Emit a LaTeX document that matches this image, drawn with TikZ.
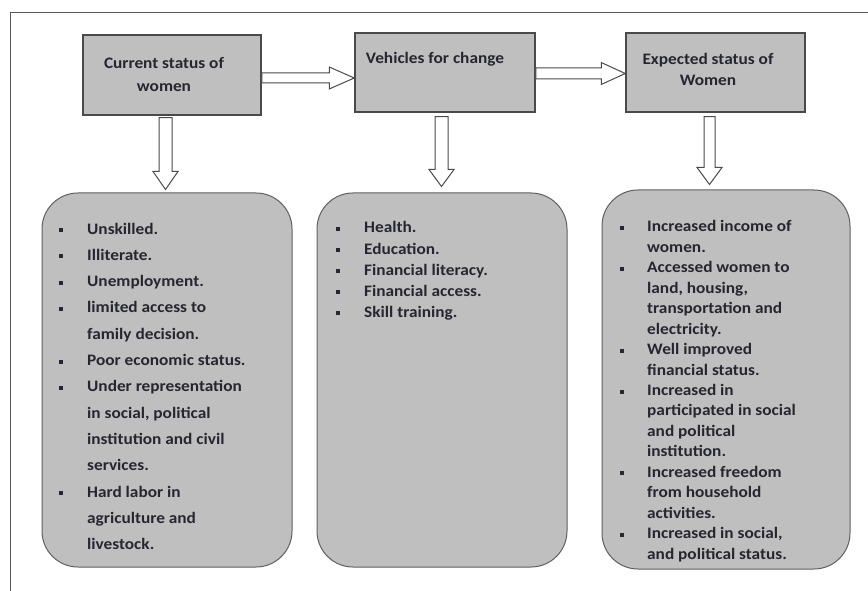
\documentclass[tikz,border=0pt]{standalone}
\usepackage{fontspec}
\setmainfont{Carlito}[FakeStretch=1.08]
\usetikzlibrary{calc}
\definecolor{boxgray}{HTML}{BFBFBF}
\definecolor{edgec}{HTML}{4A4A4A}
\definecolor{listedge}{HTML}{606060}
\definecolor{txt}{HTML}{262630}
\newcommand\harr[5]{\draw[blockarrow] ($(#1)+(0,-#3)$) -- ($(#2)+(-#5,-#3)$) -- ($(#2)+(-#5,-#4)$) -- (#2) -- ($(#2)+(-#5,#4)$) -- ($(#2)+(-#5,#3)$) -- ($(#1)+(0,#3)$) -- cycle;}
\newcommand\varr[5]{\draw[blockarrow] ($(#1)+(-#3,0)$) -- ($(#2)+(-#3,-#5)$) -- ($(#2)+(-#4,-#5)$) -- (#2) -- ($(#2)+(#4,-#5)$) -- ($(#2)+(#3,-#5)$) -- ($(#1)+(#3,0)$) -- cycle;}
\begin{document}
\begin{tikzpicture}[x=1pt,y=-1pt,
  topbox/.style={draw=edgec, line width=1.5pt, fill=boxgray, inner sep=0pt},
  listbox/.style={draw=listedge, line width=1pt, fill=boxgray, inner sep=0pt, rounded corners=36pt},
  blockarrow/.style={draw=edgec, line width=1pt, fill=white, line join=miter},
  framestyle/.style={draw=black!65, line width=1pt},
  toptext/.style={text=txt, font=\bfseries\fontsize{16}{22}\selectfont, align=center, inner sep=0pt},
  lt/.style={text=txt, font=\bfseries\fontsize{16}{20}\selectfont, anchor=base west, inner sep=0pt}]
\useasboundingbox (0,0) rectangle (868,591);
\fill[white] (0,0) rectangle (868,591);
\draw[framestyle] (868,13) -- (10,13) -- (10,591);

% top boxes
\node[topbox, minimum width=178pt, minimum height=80pt] (b1) at (172,75) {};
\node[topbox, minimum width=180pt, minimum height=79pt] (b2) at (445,72.5) {};
\node[topbox, minimum width=179pt, minimum height=79pt] (b3) at (715.5,72.5) {};
\node[toptext, font=\bfseries\fontsize{16}{23}\selectfont] (t1) at (164,75) {Current status of\\women};
\node[toptext] (t2) at (435,59) {Vehicles for change};
\node[toptext, font=\bfseries\fontsize{16}{21}\selectfont] (t3) at (708,69) {Expected status of\\Women};

% list boxes
\node[listbox, minimum width=250pt, minimum height=374pt] (la) at (167,380) {};
\node[listbox, minimum width=250pt, minimum height=374pt] (lb) at (442,380) {};
\node[listbox, minimum width=248pt, minimum height=379pt] (lc) at (726,379.5) {};

% horizontal arrows
\coordinate (h1a) at (b1.east |- 0,78);
\coordinate (h1b) at (b2.west |- 0,78);
\harr{h1a}{h1b}{5}{11}{25}
\coordinate (h2a) at (b2.east |- 0,73.5);
\coordinate (h2b) at (b3.west |- 0,73.5);
\harr{h2a}{h2b}{5.5}{11}{24}

% vertical arrows
\coordinate (v1a) at ($(b1.south)+(-6.5,2)$);
\coordinate (v1b) at ($(la.north -| v1a)+(0,-3)$);
\varr{v1a}{v1b}{6.5}{12.5}{18}
\coordinate (v2a) at ($(b2.south)+(-3.5,4)$);
\coordinate (v2b) at ($(lb.north -| v2a)+(0,-6)$);
\varr{v2a}{v2b}{6.5}{12.5}{17}
\coordinate (v3a) at ($(b3.south)+(-6,4)$);
\coordinate (v3b) at ($(lc.north -| v3a)+(0,-5)$);
\varr{v3a}{v3b}{5.5}{12.5}{17}

% list A
\foreach \t/\b [count=\i] in {Unskilled./1, Illiterate./1, Unemployment./1, limited access to/1, family decision./0, Poor economic status./1, Under representation/1, {in social, political}/0, institution and civil/0, services./0, Hard labor in/1, agriculture and/0, livestock./0} {
  \node[lt] (a\i) at (87,{234+26.3*(\i-1)}) {\t};
  \ifnum\b=1 \fill[txt] ($(a\i.base west)+(-28,-6)$) rectangle ++(4,4);\fi
}
% list B
\foreach \t/\b [count=\i] in {Health./1, Education./1, Financial literacy./1, Financial access./1, Skill training./1} {
  \node[lt] (bl\i) at (364,{233+21*(\i-1)}) {\t};
  \ifnum\b=1 \fill[txt] ($(bl\i.base west)+(-28,-6)$) rectangle ++(4,4);\fi
}
% list C
\foreach \t/\b [count=\i] in {Increased income of/1, women./0, Accessed women to/1, {land, housing,}/0, transportation and/0, electricity./0, Well improved/1, financial status./0, Increased in/1, participated in social/0, and political/0, institution./0, Increased freedom/1, from household/0, activities./0, {Increased in social,}/1, and political status./0} {
  \node[lt] (c\i) at (647,{232+20.44*(\i-1)}) {\t};
  \ifnum\b=1 \fill[txt] ($(c\i.base west)+(-27,-6)$) rectangle ++(4,4);\fi
}
\end{tikzpicture}
\end{document}
